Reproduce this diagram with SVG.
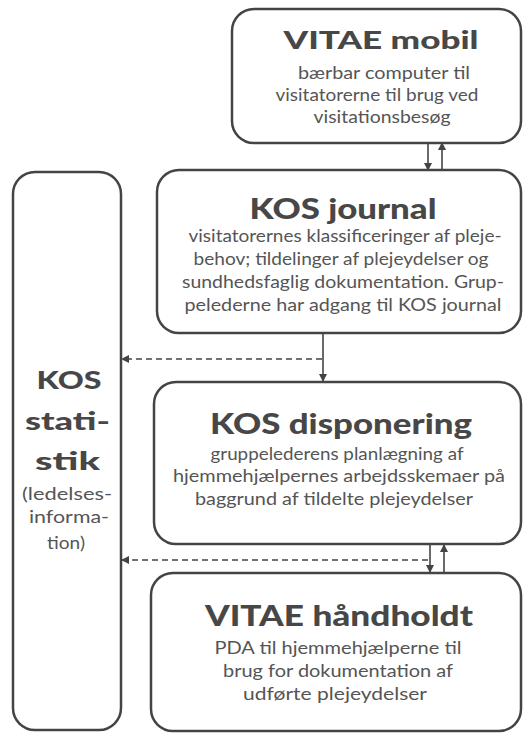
<svg xmlns="http://www.w3.org/2000/svg" width="523" height="733" viewBox="0 0 523 733">
<style>
.box{fill:#fff;stroke:#444;stroke-width:2.5}
.t{font-family:Lato,"Open Sans",sans-serif;font-weight:900;fill:#474747;text-anchor:middle}
.b{font-family:Lato,"Open Sans",sans-serif;font-size:18px;fill:#555;text-anchor:middle}
.c{stroke:#444;stroke-width:1.6;fill:none}
.d{stroke:#444;stroke-width:1.4;fill:none;stroke-dasharray:6 4}
</style>
<defs>
<marker id="ah" markerWidth="8" markerHeight="8" refX="7" refY="4" orient="auto" markerUnits="userSpaceOnUse">
<path d="M0,0 L8,4 L0,8 Z" fill="#444"/>
</marker>
</defs>
<rect width="523" height="733" fill="#fff"/>
<g id="connectors">
<line class="c" x1="428" y1="143" x2="428" y2="170" marker-end="url(#ah)"/>
<line class="c" x1="442" y1="170" x2="442" y2="143" marker-end="url(#ah)"/>
<line class="c" x1="323" y1="333" x2="323" y2="381" marker-end="url(#ah)"/>
<line class="d" x1="322" y1="359" x2="122" y2="359" marker-end="url(#ah)"/>
<line class="c" x1="430" y1="545" x2="430" y2="572" marker-end="url(#ah)"/>
<line class="c" x1="444" y1="572" x2="444" y2="545" marker-end="url(#ah)"/>
<line class="d" x1="428" y1="560" x2="122" y2="560" marker-end="url(#ah)"/>
</g>
<g id="vitae-mobil">
<rect class="box" x="232" y="9" width="289" height="134" rx="22"/>
<text class="t" x="381" y="49" font-size="25" textLength="195" lengthAdjust="spacingAndGlyphs">VITAE mobil</text>
<text class="b" x="384" y="79" textLength="172" lengthAdjust="spacingAndGlyphs">bærbar computer til</text>
<text class="b" x="377" y="101" textLength="203" lengthAdjust="spacingAndGlyphs">visitatorerne til brug ved</text>
<text class="b" x="382" y="123" textLength="137" lengthAdjust="spacingAndGlyphs">visitationsbesøg</text>
</g>
<g id="kos-journal">
<rect class="box" x="157" y="170" width="364" height="163" rx="22"/>
<text class="t" x="343" y="219" font-size="28" textLength="187" lengthAdjust="spacingAndGlyphs">KOS journal</text>
<text class="b" x="345" y="242" textLength="313" lengthAdjust="spacingAndGlyphs">visitatorernes klassificeringer af pleje-</text>
<text class="b" x="341" y="265" textLength="295" lengthAdjust="spacingAndGlyphs">behov; tildelinger af plejeydelser og</text>
<text class="b" x="343" y="288" textLength="322" lengthAdjust="spacingAndGlyphs">sundhedsfaglig dokumentation. Grup-</text>
<text class="b" x="343" y="311" textLength="317" lengthAdjust="spacingAndGlyphs">pelederne har adgang til KOS journal</text>
</g>
<g id="kos-statistik">
<rect class="box" x="13" y="172" width="108" height="558" rx="22"/>
<text class="t" x="69" y="389" font-size="25" textLength="65" lengthAdjust="spacingAndGlyphs">KOS</text>
<text class="t" x="67.5" y="430" font-size="25" textLength="85" lengthAdjust="spacingAndGlyphs">stati-</text>
<text class="t" x="67.5" y="470" font-size="25" textLength="65" lengthAdjust="spacingAndGlyphs">stik</text>
<text class="b" x="67" y="500" textLength="90" lengthAdjust="spacingAndGlyphs">(ledelses-</text>
<text class="b" x="69" y="523" textLength="80" lengthAdjust="spacingAndGlyphs">informa-</text>
<text class="b" x="66" y="549" textLength="38" lengthAdjust="spacingAndGlyphs">tion)</text>
</g>
<g id="kos-disponering">
<rect class="box" x="154" y="382" width="367" height="162" rx="22"/>
<text class="t" x="341" y="434" font-size="28" textLength="262" lengthAdjust="spacingAndGlyphs">KOS disponering</text>
<text class="b" x="337" y="460" textLength="253" lengthAdjust="spacingAndGlyphs">gruppelederens planlægning af</text>
<text class="b" x="339" y="482" textLength="332" lengthAdjust="spacingAndGlyphs">hjemmehjælpernes arbejdsskemaer på</text>
<text class="b" x="334" y="505" textLength="278" lengthAdjust="spacingAndGlyphs">baggrund af tildelte plejeydelser</text>
</g>
<g id="vitae-haandholdt">
<rect class="box" x="151" y="573" width="370" height="158" rx="22"/>
<text class="t" x="339" y="626" font-size="28" textLength="268" lengthAdjust="spacingAndGlyphs">VITAE håndholdt</text>
<text class="b" x="338" y="654" textLength="247" lengthAdjust="spacingAndGlyphs">PDA til hjemmehjælperne til</text>
<text class="b" x="338" y="677" textLength="230" lengthAdjust="spacingAndGlyphs">brug for dokumentation af</text>
<text class="b" x="335" y="700" textLength="184" lengthAdjust="spacingAndGlyphs">udførte plejeydelser</text>
</g>
</svg>
